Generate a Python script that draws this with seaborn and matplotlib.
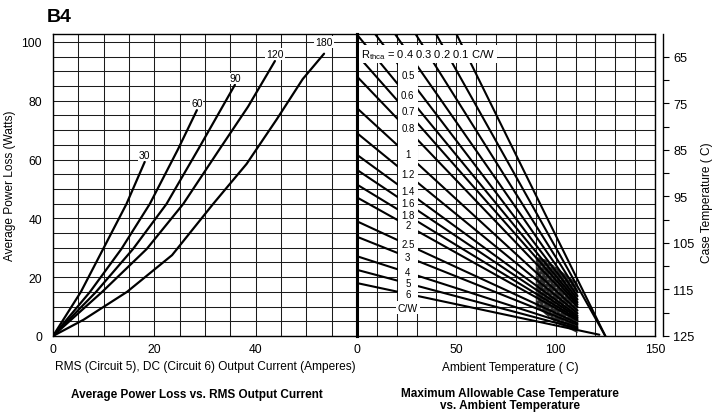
import numpy as np
import pandas as pd
import matplotlib
matplotlib.use("Agg")
import matplotlib.pyplot as plt
from matplotlib.patches import Polygon, Rectangle
from matplotlib.ticker import FixedLocator, MultipleLocator, NullFormatter
import seaborn as sns

sns.set_theme(style="white")
plt.rcParams["font.family"] = ["Liberation Sans", "DejaVu Sans"]
plt.rcParams.update({"text.color": "black", "axes.labelcolor": "black",
                     "xtick.color": "black", "ytick.color": "black",
                     "hatch.linewidth": 0.6})

# ---------------- left panel: power loss vs current, per conduction angle
angle_labels = ["30", "60", "90", "120", "180"]
current_30 = [0, 5.5, 9.9, 14.5, 18.1]
loss_30 = [0, 15, 29.6, 44.9, 59.2]
current_60 = [0, 7.3, 13.5, 19.1, 24.7, 28.4]
loss_60 = [0, 15, 29.6, 44.9, 63.6, 76.8]
current_90 = [0, 8.5, 15.8, 22.4, 28.7, 35.9]
loss_90 = [0, 15, 29.6, 44.9, 63.6, 85.4]
current_120 = [0, 9.7, 18.5, 25.7, 32.9, 38.5, 43.8]
loss_120 = [0, 15, 29.6, 44.9, 63.6, 78, 93.5]
current_180 = [0, 6, 14.6, 23.5, 31.6, 38.2, 44.2, 49.3, 53.5]
loss_180 = [0, 5.5, 15, 27.5, 44.9, 58.5, 73.8, 87.4, 96]

# ---------------- right panel: derating lines per heatsink resistance
rthca_labels = ["0.1", "0.2", "0.3", "0.4", "0.5", "0.6", "0.7", "0.8", "1",
                "1.2", "1.4", "1.6", "1.8", "2", "2.5", "3", "4", "5", "6"]
# power on each line at 25 C ambient
power_at_25 = [137, 120.5, 107.5, 97, 88.6, 82, 76.5, 70.6, 62, 55.2,
               49.3, 45.2, 41.2, 37.7, 31.2, 27, 21.7, 18.0, 14.4]
# ambient temperature where each drawn line stops
line_end_ta = [125, 125, 111, 111, 111, 111, 111, 111, 111, 111,
               111, 111, 111, 111, 111, 111, 111, 111, 122]
zero_power_ta = 125

case_temp_major = [65, 75, 85, 95, 105, 115, 125]
case_temp_minor = [70, 80, 90, 100, 110, 120]

W, H = 714, 414
fig = plt.figure(figsize=(W / 100, H / 100), dpi=100)
fig.patch.set_facecolor("white")

P_TOP = 102.7
ax_l = fig.add_axes([53 / W, 1 - 337 / H, 304 / W, 302 / H])
ax_r = fig.add_axes([357 / W, 1 - 337 / H, 298 / W, 302 / H])

GRID_KW = dict(color="#1c1c1c", linewidth=0.75)
TICK_FS = 8.7
LABEL_FS = 8.6

# --- left panel curves
curves = []
for lab, xs, ys in zip(angle_labels,
                       [current_30, current_60, current_90, current_120, current_180],
                       [loss_30, loss_60, loss_90, loss_120, loss_180]):
    curves.append(pd.DataFrame({"current": xs, "loss": ys, "angle": lab}))
df_left = pd.concat(curves, ignore_index=True)
sns.lineplot(data=df_left, x="current", y="loss", hue="angle",
             palette=["black"] * len(angle_labels), estimator=None, sort=False,
             legend=False, linewidth=1.6, ax=ax_l, zorder=3)

label_offsets = [2.3, 2.4, 2.2, 2.5, 4.0]
for lab, xs, ys, off in zip(angle_labels,
                            [current_30, current_60, current_90, current_120, current_180],
                            [loss_30, loss_60, loss_90, loss_120, loss_180],
                            label_offsets):
    ax_l.text(xs[-1], ys[-1] + off, lab, ha="center", va="center", fontsize=7.5,
              zorder=6, bbox=dict(facecolor="white", edgecolor="none", pad=0.6))

ax_l.set_xlim(0, 60)
ax_l.set_ylim(0, P_TOP)
ax_l.xaxis.set_major_locator(FixedLocator([0, 20, 40]))
ax_l.xaxis.set_minor_locator(MultipleLocator(5))
ax_l.yaxis.set_major_locator(FixedLocator([0, 20, 40, 60, 80, 100]))
ax_l.yaxis.set_minor_locator(MultipleLocator(5))
ax_l.grid(True, which="both", **GRID_KW)
ax_l.set_axisbelow(True)
ax_l.tick_params(which="both", length=0, labelsize=TICK_FS, colors="black")
ax_l.tick_params(axis="y", pad=8)
ax_l.tick_params(axis="x", pad=5)
ax_l.set_xlabel("")
ax_l.set_ylabel("")

# --- right panel derating lines
rows = []
for lab, p25, end in zip(rthca_labels, power_at_25, line_end_ta):
    slope = p25 / (zero_power_ta - 25)
    for ta in (0, end):
        rows.append({"ambient": ta, "power": slope * (zero_power_ta - ta), "rthca": lab})
df_right = pd.DataFrame(rows)
sns.lineplot(data=df_right, x="ambient", y="power", units="rthca",
             estimator=None, sort=False, color="black", linewidth=1.5,
             legend=False, ax=ax_r, zorder=3)

# dense overlap zone where the lines bunch together
zone = Polygon([(90, 27), (95, 26), (111, 18), (111, 1), (100, 4.5), (90, 10)],
               closed=True, facecolor="#2c2c2c", edgecolor="#8f8f8f",
               linewidth=0, hatch="....", zorder=2.5)
ax_r.add_patch(zone)

# blank column carrying the resistance labels
ax_r.add_patch(Rectangle((20.4, 11.8), 10.4, 81.7, facecolor="white",
                         edgecolor="none", zorder=4))
for lab, p25 in zip(rthca_labels, power_at_25):
    if p25 < 92:
        ax_r.text(25.6, p25, lab, ha="center", va="center", fontsize=7.0, zorder=6)
ax_r.text(25.6, 9.6, "C/W", ha="center", va="center", fontsize=7.5, zorder=6,
          bbox=dict(facecolor="white", edgecolor="none", pad=1.2))
ax_r.text(2.2, 95.9, r"R$_{\mathregular{thca}}$ = 0.4 0.3 0.2 0.1 C/W",
          ha="left", va="center", fontsize=8.0, zorder=6,
          bbox=dict(facecolor="white", edgecolor="none", pad=1.5))

ax_r.set_xlim(0, 150)
ax_r.set_ylim(0, P_TOP)
ax_r.xaxis.set_major_locator(FixedLocator([0, 50, 100, 150]))
ax_r.xaxis.set_minor_locator(MultipleLocator(10))
ax_r.yaxis.set_major_locator(FixedLocator([0, 20, 40, 60, 80, 100]))
ax_r.yaxis.set_minor_locator(MultipleLocator(5))
ax_r.yaxis.set_major_formatter(NullFormatter())
ax_r.grid(True, which="both", **GRID_KW)
ax_r.set_axisbelow(True)
ax_r.tick_params(which="both", length=0, labelsize=TICK_FS, colors="black")
ax_r.tick_params(axis="x", pad=5)
ax_r.set_xlabel("")
ax_r.set_ylabel("")

for ax in (ax_l, ax_r):
    for s in ax.spines.values():
        s.set_color("black")
        s.set_linewidth(1.0)
ax_l.spines["right"].set_linewidth(2.2)
ax_r.spines["left"].set_linewidth(2.2)

# case temperature scale
ax_t = ax_r.twinx()
ax_t.set_ylim(125, 60.1)
ax_t.grid(False)
for s in ("left", "top", "bottom"):
    ax_t.spines[s].set_visible(False)
ax_t.spines["right"].set_position(("outward", 5.8))
ax_t.spines["right"].set_color("black")
ax_t.spines["right"].set_linewidth(1.0)
ax_t.yaxis.set_major_locator(FixedLocator(case_temp_major))
ax_t.yaxis.set_minor_locator(FixedLocator(case_temp_minor))
ax_t.tick_params(axis="y", which="both", direction="out", length=4.5, width=0.8,
                 pad=3, labelsize=9.2, colors="black")

# figure texts
fig.text(47 / W, 1 - 17 / H, "B4", ha="left", va="center", fontsize=14,
         fontweight="bold")
fig.text(10 / W, 1 - 186 / H, "Average Power Loss (Watts)", rotation=90,
         ha="center", va="center", fontsize=LABEL_FS)
fig.text(707 / W, 1 - 203 / H, "Case Temperature ( C)", rotation=90,
         ha="center", va="center", fontsize=LABEL_FS)
fig.text(205 / W, 1 - 367 / H, "RMS (Circuit 5), DC (Circuit 6) Output Current (Amperes)",
         ha="center", va="center", fontsize=LABEL_FS)
fig.text(510 / W, 1 - 368 / H, "Ambient Temperature ( C)", ha="center",
         va="center", fontsize=LABEL_FS)
fig.text(197 / W, 1 - 395 / H, "Average Power Loss vs. RMS Output Current",
         ha="center", va="center", fontsize=8.5, fontweight="bold")
fig.text(510 / W, 1 - 400 / H, "Maximum Allowable Case Temperature\nvs. Ambient Temperature",
         ha="center", va="center", fontsize=8.5, fontweight="bold", linespacing=1.0)

fig.savefig("out.png", dpi=100, facecolor="white")
